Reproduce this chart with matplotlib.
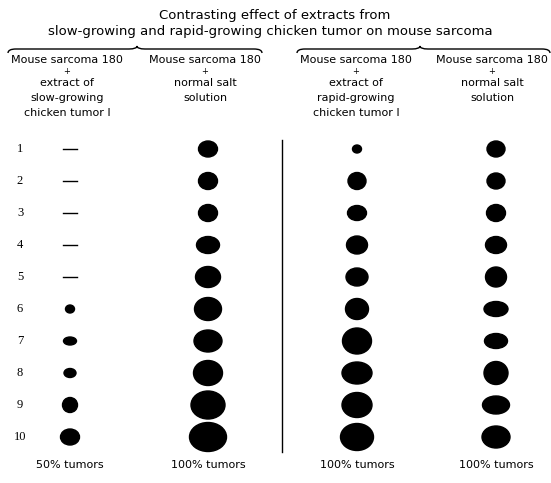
import matplotlib
matplotlib.use("Agg")
import matplotlib.pyplot as plt
from matplotlib.patches import Ellipse
from matplotlib.path import Path
from matplotlib.patches import PathPatch

# tumor sizes (width, height) per mouse, 0 = no tumor
rows = [1, 2, 3, 4, 5, 6, 7, 8, 9, 10]
slow_w = [0, 0, 0, 0, 0, 9, 13, 12, 15, 19]
slow_h = [0, 0, 0, 0, 0, 8, 8, 9, 15, 16]
salt1_w = [19, 19, 19, 23, 25, 27, 28, 29, 34, 37]
salt1_h = [16, 17, 17, 17, 21, 23, 22, 25, 28, 29]
rapid_w = [9, 18, 19, 21, 22, 23, 29, 30, 30, 33]
rapid_h = [8, 17, 15, 18, 18, 21, 26, 22, 25, 27]
salt2_w = [18, 18, 19, 21, 21, 24, 23, 24, 27, 28]
salt2_h = [16, 16, 17, 17, 20, 15, 15, 23, 18, 22]

headers = [
    ["Mouse sarcoma 180", "+", "extract of", "slow-growing", "chicken tumor I"],
    ["Mouse sarcoma 180", "+", "normal salt", "solution"],
    ["Mouse sarcoma 180", "+", "extract of", "rapid-growing", "chicken tumor I"],
    ["Mouse sarcoma 180", "+", "normal salt", "solution"],
]
results = ["50% tumors", "100% tumors", "100% tumors", "100% tumors"]
title = ["Contrasting effect of extracts from",
         "slow-growing and rapid-growing chicken tumor on mouse sarcoma"]

fig = plt.figure(figsize=(5.51, 4.83), dpi=100)
ax = fig.add_axes([0, 0, 1, 1])
ax.set_xlim(0, 551)
ax.set_ylim(483, 0)
ax.axis("off")

col_x = [70, 208, 357, 496]
header_x = [67, 205, 356, 492]
row_y0, row_step = 149, 32
line_y = [60, 71, 83, 98, 113]

font = "DejaVu Sans"
ax.text(275, 15, title[0], ha="center", va="center", fontsize=9.5, family=font)
ax.text(270, 32, title[1], ha="center", va="center", fontsize=9.5, family=font)


def brace(x0, x1, xt, y):
    r = 8
    verts = [(x0, y + 4), (x0, y), (x0 + r, y),
             (xt - r, y), (xt, y), (xt, y - 3),
             (xt, y), (xt + r, y), (x1 - r, y),
             (x1, y), (x1, y + 4)]
    codes = [Path.MOVETO, Path.CURVE3, Path.CURVE3,
             Path.LINETO, Path.CURVE3, Path.CURVE3,
             Path.CURVE3, Path.CURVE3, Path.LINETO,
             Path.CURVE3, Path.CURVE3]
    ax.add_patch(PathPatch(Path(verts, codes), fill=False, lw=1.0, color="black"))


brace(8, 262, 137, 49)
brace(297, 550, 420, 49)

for c, lines in enumerate(headers):
    for i, s in enumerate(lines):
        fs = 6 if s == "+" else 8.0
        ax.text(header_x[c], line_y[i], s, ha="center", va="center",
                fontsize=fs, family=font)
    ax.text(col_x[c], 465, results[c], ha="center", va="center",
            fontsize=8.0, family=font)

for i, r in enumerate(rows):
    y = row_y0 + i * row_step
    ax.text(20, y, str(r), ha="center", va="center", fontsize=9,
            family="Liberation Serif")

sizes = [(slow_w, slow_h), (salt1_w, salt1_h), (rapid_w, rapid_h), (salt2_w, salt2_h)]
for c, (ws, hs) in enumerate(sizes):
    for i in range(len(rows)):
        y = row_y0 + i * row_step
        if ws[i] == 0:
            ax.plot([col_x[c] - 7, col_x[c] + 7], [y, y], color="black", lw=1.0)
        else:
            ax.add_patch(Ellipse((col_x[c], y), ws[i], hs[i], color="black"))

ax.plot([282, 282], [140, 452], color="black", lw=1.0)

fig.savefig("out.png", dpi=100)
